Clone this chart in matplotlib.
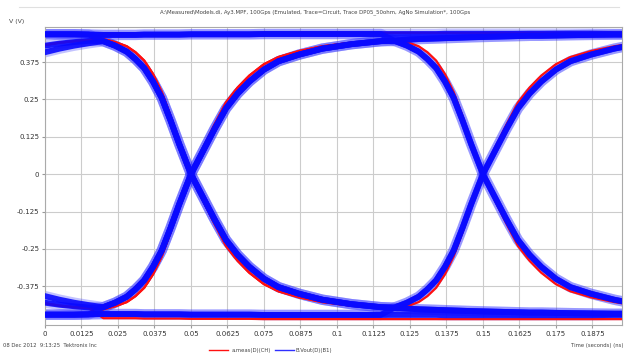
import matplotlib
matplotlib.use("Agg")
import matplotlib.pyplot as plt

# time axis pieces (left tail, first edge round 0.05, second edge round 0.15)
t_left = [0.0, 0.005, 0.01, 0.015]
t_edge1 = [0.02, 0.024, 0.028, 0.031, 0.034, 0.037, 0.04, 0.043, 0.046, 0.05, 0.054,
           0.058, 0.062, 0.066, 0.07, 0.075, 0.08, 0.087, 0.095, 0.105, 0.115]
t_edge2 = [0.12, 0.124, 0.128, 0.131, 0.134, 0.137, 0.14, 0.143, 0.146, 0.15, 0.154,
           0.158, 0.162, 0.166, 0.17, 0.175, 0.18, 0.187, 0.195, 0.1976]

# simulated (blue) segments
sim_tail_high = [0.43, 0.437, 0.442, 0.446]
sim_tail_high_b = [0.408, 0.42, 0.43, 0.438]
sim_tail_low = [-0.43, -0.437, -0.442, -0.446]
sim_tail_low_b = [-0.408, -0.42, -0.43, -0.438]
sim_flat_high_left = [0.468, 0.468, 0.468, 0.467]
sim_flat_low_left = [-0.47, -0.47, -0.47, -0.469]
sim_fall1 = [0.445, 0.43, 0.41, 0.385, 0.355, 0.31, 0.255, 0.18, 0.10, 0.0, -0.075,
             -0.15, -0.22, -0.27, -0.31, -0.35, -0.378, -0.40, -0.42, -0.435, -0.445]
sim_rise1 = [-0.445, -0.43, -0.41, -0.385, -0.355, -0.31, -0.255, -0.18, -0.10, 0.0, 0.075,
             0.15, 0.22, 0.27, 0.31, 0.35, 0.378, 0.40, 0.42, 0.435, 0.445]
sim_high1 = [0.466, 0.466, 0.466, 0.466, 0.467, 0.467, 0.467, 0.467, 0.467, 0.468, 0.468,
             0.468, 0.468, 0.468, 0.468, 0.469, 0.469, 0.469, 0.469, 0.469, 0.469]
sim_low1 = [-0.468, -0.468, -0.468, -0.468, -0.469, -0.469, -0.469, -0.469, -0.469, -0.47,
            -0.47, -0.47, -0.47, -0.47, -0.47, -0.471, -0.471, -0.471, -0.471, -0.471, -0.471]
sim_fall2 = [0.445, 0.43, 0.41, 0.385, 0.355, 0.31, 0.255, 0.18, 0.10, 0.0, -0.075,
             -0.15, -0.22, -0.27, -0.31, -0.35, -0.378, -0.40, -0.42, -0.425]
sim_rise2 = [-0.445, -0.43, -0.41, -0.385, -0.355, -0.31, -0.255, -0.18, -0.10, 0.0, 0.075,
             0.15, 0.22, 0.27, 0.31, 0.35, 0.378, 0.40, 0.42, 0.425]
sim_high2 = [0.448, 0.45, 0.452, 0.453, 0.454, 0.455, 0.456, 0.457, 0.458, 0.459, 0.46,
             0.461, 0.462, 0.463, 0.463, 0.464, 0.465, 0.466, 0.467, 0.467]
sim_low2 = [-0.448, -0.45, -0.452, -0.453, -0.454, -0.455, -0.456, -0.457, -0.458, -0.459,
            -0.46, -0.461, -0.462, -0.463, -0.463, -0.464, -0.465, -0.466, -0.467, -0.467]
sim_flat_high2 = [0.469, 0.469, 0.469, 0.469, 0.469, 0.47, 0.47, 0.47, 0.47, 0.47, 0.47,
                  0.47, 0.47, 0.47, 0.47, 0.47, 0.47, 0.47, 0.469, 0.469]
sim_flat_low2 = [-0.471, -0.471, -0.471, -0.471, -0.471, -0.472, -0.472, -0.472, -0.472,
                 -0.472, -0.472, -0.472, -0.472, -0.472, -0.472, -0.472, -0.472, -0.472,
                 -0.471, -0.471]

# measured (red) segments, slightly steeper edges
meas_tail_high = [0.432, 0.44, 0.445, 0.448]
meas_tail_low = [-0.432, -0.44, -0.445, -0.448]
meas_fall1 = [0.452, 0.442, 0.428, 0.408, 0.38, 0.335, 0.275, 0.195, 0.105, 0.0, -0.085,
              -0.165, -0.24, -0.29, -0.33, -0.368, -0.392, -0.412, -0.428, -0.44, -0.447]
meas_rise1 = [-0.452, -0.442, -0.428, -0.408, -0.38, -0.335, -0.275, -0.195, -0.105, 0.0,
              0.085, 0.165, 0.24, 0.29, 0.33, 0.368, 0.392, 0.412, 0.428, 0.44, 0.447]
meas_high1 = [0.47, 0.47, 0.47, 0.47, 0.471, 0.471, 0.471, 0.471, 0.471, 0.472, 0.472,
              0.472, 0.472, 0.472, 0.472, 0.473, 0.473, 0.473, 0.473, 0.473, 0.473]
meas_low1 = [-0.482, -0.482, -0.482, -0.482, -0.483, -0.483, -0.483, -0.483, -0.483, -0.484,
             -0.484, -0.484, -0.484, -0.484, -0.484, -0.485, -0.485, -0.485, -0.485, -0.485,
             -0.485]
meas_fall2 = [0.452, 0.442, 0.428, 0.408, 0.38, 0.335, 0.275, 0.195, 0.105, 0.0, -0.085,
              -0.165, -0.24, -0.29, -0.33, -0.368, -0.392, -0.412, -0.428, -0.432]
meas_rise2 = [-0.452, -0.442, -0.428, -0.408, -0.38, -0.335, -0.275, -0.195, -0.105, 0.0,
              0.085, 0.165, 0.24, 0.29, 0.33, 0.368, 0.392, 0.412, 0.428, 0.432]
meas_high2 = [0.45, 0.452, 0.454, 0.455, 0.456, 0.457, 0.458, 0.459, 0.46, 0.461, 0.462,
              0.463, 0.464, 0.465, 0.465, 0.466, 0.467, 0.468, 0.469, 0.469]
meas_low2 = [-0.45, -0.452, -0.454, -0.455, -0.456, -0.457, -0.458, -0.459, -0.46, -0.461,
             -0.462, -0.463, -0.464, -0.465, -0.465, -0.466, -0.467, -0.468, -0.469, -0.469]
meas_flat_high2 = [0.473, 0.473, 0.473, 0.473, 0.473, 0.473, 0.473, 0.473, 0.473, 0.473,
                   0.473, 0.473, 0.473, 0.473, 0.473, 0.473, 0.473, 0.473, 0.473, 0.473]
meas_flat_low2 = [-0.485, -0.485, -0.485, -0.485, -0.485, -0.485, -0.485, -0.485, -0.485,
                  -0.485, -0.485, -0.485, -0.485, -0.485, -0.485, -0.485, -0.485, -0.485,
                  -0.485, -0.485]

x_ticks = [0, 0.0125, 0.025, 0.0375, 0.05, 0.0625, 0.075, 0.0875, 0.1, 0.1125,
           0.125, 0.1375, 0.15, 0.1625, 0.175, 0.1875]
x_tick_labels = ["0", "0.0125", "0.025", "0.0375", "0.05", "0.0625", "0.075", "0.0875",
                 "0.1", "0.1125", "0.125", "0.1375", "0.15", "0.1625", "0.175", "0.1875"]
y_ticks = [-0.375, -0.25, -0.125, 0, 0.125, 0.25, 0.375]
y_tick_labels = ["-0.375", "-0.25", "-0.125", "0", "0.125", "0.25", "0.375"]

sim_label = "B.Vout(D)(B1)"
meas_label = "a.meas(D)(CH)"

t_all = t_left + t_edge1 + t_edge2

sim_paths = [
    sim_flat_high_left + sim_high1 + sim_flat_high2,
    sim_flat_low_left + sim_low1 + sim_flat_low2,
    sim_tail_high + sim_fall1 + sim_low2,
    sim_tail_low + sim_rise1 + sim_high2,
    sim_tail_high_b + sim_fall1 + sim_rise2,
    sim_tail_low_b + sim_rise1 + sim_fall2,
    sim_flat_high_left + sim_high1 + sim_fall2,
    sim_flat_low_left + sim_low1 + sim_rise2,
    sim_flat_high_left + sim_fall1 + sim_low2,
    sim_flat_low_left + sim_rise1 + sim_high2,
]
meas_paths = [
    meas_tail_high + meas_high1 + meas_flat_high2,
    meas_tail_low + meas_low1 + meas_flat_low2,
    meas_tail_high + meas_fall1 + meas_low2,
    meas_tail_low + meas_rise1 + meas_high2,
    meas_tail_high + meas_fall1 + meas_rise2,
    meas_tail_low + meas_rise1 + meas_fall2,
]

fig = plt.figure(figsize=(6.25, 3.53), dpi=100)
ax = fig.add_axes([0.072, 0.079, 0.923, 0.845])

for v in sim_paths:
    ax.plot(t_all, v, color="#3a3aff", lw=7.5, alpha=0.3, zorder=2)
for v in meas_paths:
    ax.plot(t_all, v, color="#ff1010", lw=1.6, zorder=3)
for v in sim_paths:
    ax.plot(t_all, v, color="#0a0aff", lw=4.2, alpha=0.9, zorder=4)

ax.set_xlim(0, 0.1976)
ax.set_ylim(-0.505, 0.493)
ax.set_xticks(x_ticks)
ax.set_xticklabels(x_tick_labels)
ax.set_yticks(y_ticks)
ax.set_yticklabels(y_tick_labels)
ax.tick_params(labelsize=5, length=2, color="#999999", pad=2, labelcolor="#333333")
ax.grid(True, color="#cccccc", lw=0.8)
ax.set_axisbelow(True)
for s in ax.spines.values():
    s.set_color("#aaaaaa")

fig.add_artist(plt.Line2D([0.03, 0.99], [0.98, 0.98], color="#e0e0e0", lw=0.8))
fig.text(0.505, 0.965, "A:\\Measured\\Models.di, Ay3.MPF, 100Gps (Emulated, Trace=Circuit, "
         "Trace DP05_50ohm, AgNo Simulation*, 100Gps", fontsize=3.9, ha="center", va="center",
         color="#444444")
fig.text(0.015, 0.94, "V (V)", fontsize=4.5, ha="left", va="center", color="#444444")
fig.text(0.005, 0.022, "08 Dec 2012  9:13:25  Tektronix Inc", fontsize=3.8, ha="left",
         va="center", color="#444444")
fig.text(0.998, 0.022, "Time (seconds) (ns)", fontsize=3.8, ha="right", va="center",
         color="#444444")

fig.add_artist(plt.Line2D([0.335, 0.365], [0.008, 0.008], color="#ff1010", lw=1))
fig.text(0.37, 0.008, meas_label, fontsize=3.8, ha="left", va="center", color="#444444")
fig.add_artist(plt.Line2D([0.44, 0.47], [0.008, 0.008], color="#3030ff", lw=1))
fig.text(0.473, 0.008, sim_label, fontsize=3.8, ha="left", va="center", color="#444444")

fig.savefig("out.png", dpi=100, facecolor="white")
